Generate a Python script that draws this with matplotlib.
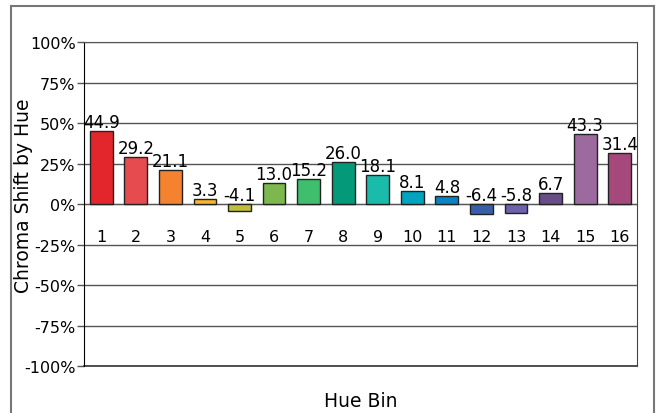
import numpy as np
import matplotlib
matplotlib.use("Agg")
import matplotlib.pyplot as plt
from matplotlib.lines import Line2D

# Chroma shift per hue bin
bins = [str(i) for i in range(1, 17)]
shift = [44.9, 29.2, 21.1, 3.3, -4.1, 13.0, 15.2, 26.0,
         18.1, 8.1, 4.8, -6.4, -5.8, 6.7, 43.3, 31.4]
barColors = ['#E3262B', '#E64B50', '#F5822E', '#F9B52C', '#BFBF3C', '#7DB84E',
             '#3FBF6E', '#049A79', '#1ABBAA', '#01A3BE', '#0783C6', '#3A5DA9',
             '#6E62AC', '#694D88', '#9C6A9F', '#A5497C']
yTicks = [-100, -75, -50, -25, 0, 25, 50, 75, 100]

plt.rcParams['font.family'] = 'DejaVu Sans'

fig = plt.figure(figsize=(6.56, 4.14), dpi=100)
ax = fig.add_axes([0.128, 0.1135, 0.843, 0.7825])

x = np.arange(len(bins))
ax.bar(x, shift, width=0.66, color=barColors, edgecolor='#222222', linewidth=1.0, zorder=3)

for xi, v in zip(x, shift):
    ax.text(xi, max(v, 0), '%.1f' % v, ha='center', va='bottom', fontsize=12, zorder=4)

ax.set_xlim(-0.5, len(bins) - 0.5)
ax.set_ylim(-100, 100)
ax.set_yticks(yTicks)
ax.set_yticklabels(['%d%%' % t for t in yTicks])
ax.yaxis.grid(True, color='#555555', linewidth=1.0, zorder=0)

ax.set_xticks(x)
ax.set_xticklabels(bins)
ax.spines['bottom'].set_position(('data', 0))
ax.spines['bottom'].set_color('#555555')
ax.spines['bottom'].set_zorder(2)
ax.tick_params(axis='x', length=0, pad=18, labelsize=11.5)
ax.tick_params(axis='y', length=5, color='#555555', width=1.0, labelsize=11.5, pad=1)
ax.spines['left'].set_color('black')
ax.spines['top'].set_color('#555555')
ax.spines['right'].set_color('#444444')
ax.axhline(-100, color='#333333', linewidth=1.2, zorder=2, clip_on=False)

ax.set_ylabel('Chroma Shift by Hue', fontsize=13.5, labelpad=0)
ax.yaxis.set_label_coords(-0.092, 0.53)
fig.text(0.5 * (0.128 + 0.971), 0.029, 'Hue Bin', ha='center', va='center', fontsize=13.5)

# outer frame (no bottom edge)
l, r, t = 11 / 656, 654 / 656, 1 - 7 / 414
for xs, ys in [([l, l], [0, t]), ([l, r], [t, t]), ([r, r], [t, 0])]:
    fig.add_artist(Line2D(xs, ys, color='#777777', linewidth=1.5, transform=fig.transFigure))

fig.savefig('out.png', dpi=100)
